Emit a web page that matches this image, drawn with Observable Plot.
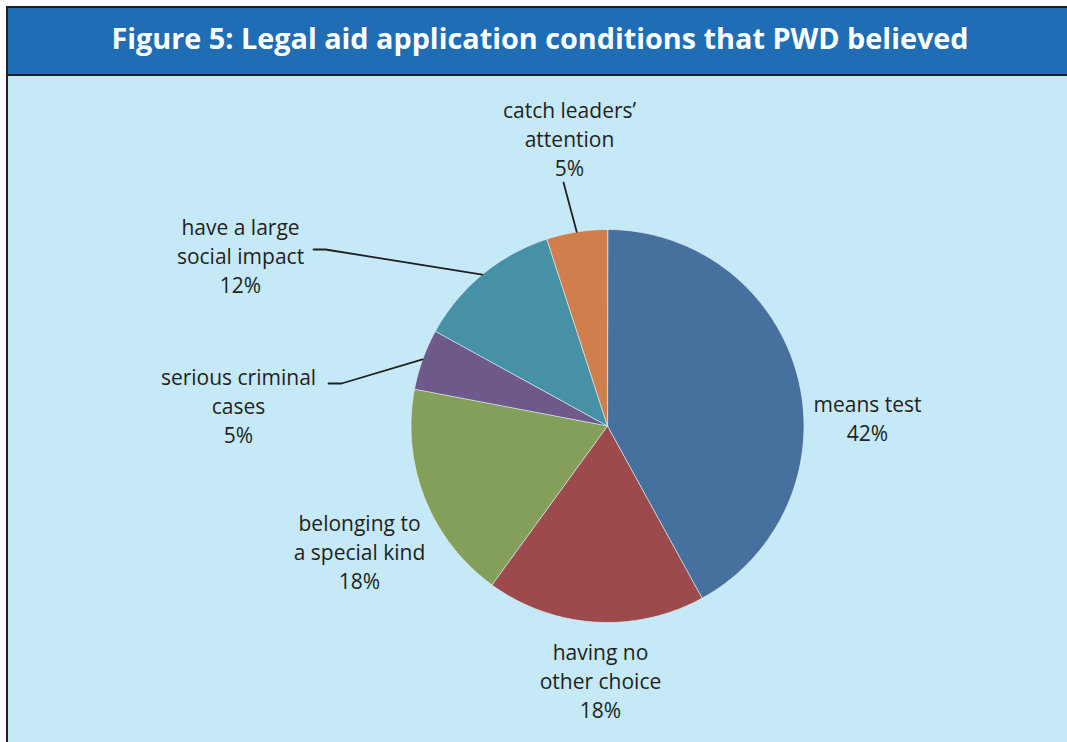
<!DOCTYPE html>
<html>
<head>
<meta charset="utf-8">
<script src="https://cdn.jsdelivr.net/npm/d3@7"></script>
<script src="https://cdn.jsdelivr.net/npm/@observablehq/plot@0.6"></script>
<style>
  html, body { margin: 0; padding: 0; background: #ffffff; width: 1067px; height: 742px; overflow: hidden; }
  #frame { position: absolute; left: 6px; top: 6px; width: 1080px; height: 760px;
           border-left: 2px solid #231f20; border-top: 2px solid #231f20; background: #c6e9f8; }
  #title { height: 66px; background: #1f6db5; border-bottom: 2px solid #231f20; color: #ffffff;
           font-family: "Open Sans", sans-serif; font-weight: 700; font-size: 28.8px; line-height: 60px;
           width: 1080px; text-align: left; white-space: nowrap; }
  #title span { display: inline-block; width: 1064px; text-align: center; }
  #chart { display: block; }
</style>
</head>
<body>
<div id="frame">
  <div id="title"><span>Figure 5: Legal aid application conditions that PWD believed</span></div>
  <div id="chart"></div>
</div>
<script>
// ---- data ----
const categories = ["means test", "having no other choice", "belonging to a special kind",
  "serious criminal cases", "have a large social impact", "catch leaders’ attention"];
const values = [42, 18, 18, 5, 12, 5];
const colors = ["#46709e", "#9c4a4c", "#849f59", "#6d5a8b", "#4791a6", "#d07e4b"];
const labelLines = [["means test"], ["having no", "other choice"], ["belonging to", "a special kind"],
  ["serious criminal", "cases"], ["have a large", "social impact"], ["catch leaders’", "attention"]];

// ---- layout (page pixels) ----
const W = 1059, H = 666, OX = 8, OY = 76;       // svg origin on page
const PCX = 607, PCY = 425.5, R = 196.5;         // pie centre & radius on page
const labelPos = [[867, 417], [600, 679], [359, 550], [238, 404], [240, 254], [569, 137]];
const leaderElbows = [null, null, null, [[328, 383], [341, 383]], [[313, 249], [325, 249]], [[563, 182]]];

const ux = px => (px - PCX) / R;
const uy = py => (PCY - py) / R;

// ---- slices ----
const total = d3.sum(values);
let acc = 0;
const slices = values.map((v, i) => {
  const a0 = acc / total * 2 * Math.PI;
  acc += v;
  const a1 = acc / total * 2 * Math.PI;
  return {category: categories[i], value: v, a0, a1, mid: (a0 + a1) / 2};
});
const slicePts = [];
for (const s of slices) {
  slicePts.push({category: s.category, x: 0, y: 0});
  const n = Math.max(2, Math.ceil((s.a1 - s.a0) / (Math.PI / 180)));
  for (let k = 0; k <= n; k++) {
    const a = s.a0 + (s.a1 - s.a0) * k / n;
    slicePts.push({category: s.category, x: Math.sin(a), y: Math.cos(a)});
  }
}

// ---- labels & leaders ----
const labels = slices.map((s, i) => ({
  x: ux(labelPos[i][0]), y: uy(labelPos[i][1]),
  text: [...labelLines[i], `${s.value}%`].join("\n")
}));
const leaders = [];
slices.forEach((s, i) => {
  if (!leaderElbows[i]) return;
  leaderElbows[i].forEach(p => leaders.push({id: i, x: ux(p[0]), y: uy(p[1])}));
  leaders.push({id: i, x: Math.sin(s.mid), y: Math.cos(s.mid)});
});

const chart = Plot.plot({
  width: W, height: H,
  marginTop: 0, marginRight: 0, marginBottom: 0, marginLeft: 0,
  x: {domain: [(OX - PCX) / R, (OX + W - PCX) / R], axis: null},
  y: {domain: [(PCY - OY - H) / R, (PCY - OY) / R], axis: null},
  color: {domain: categories, range: colors},
  style: {background: "transparent", overflow: "visible"},
  marks: [
    Plot.line(slicePts, {x: "x", y: "y", z: "category", fill: "category", curve: "linear-closed",
      stroke: "#dcecf2", strokeWidth: 0.8, strokeOpacity: 0.9}),
    Plot.line(leaders, {x: "x", y: "y", z: "id", stroke: "#231f20", strokeWidth: 1.8}),
    Plot.text(labels, {x: "x", y: "y", text: "text", fontSize: 21, lineHeight: 1.38,
      fontFamily: "Open Sans", fill: "#231f20", textAnchor: "middle"})
  ]
});
document.getElementById("chart").appendChild(chart);
</script>
</body>
</html>
